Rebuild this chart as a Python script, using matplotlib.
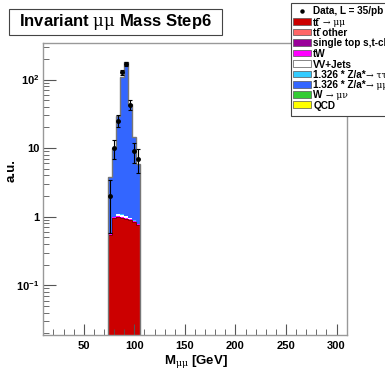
import numpy as np
import matplotlib
matplotlib.use("Agg")
import matplotlib.pyplot as plt
from matplotlib.patches import Rectangle
from matplotlib.ticker import FixedLocator, NullFormatter

plt.rcParams['font.family'] = ['Liberation Sans', 'DejaVu Sans']
plt.rcParams['mathtext.fontset'] = 'custom'
plt.rcParams['mathtext.rm'] = 'Liberation Sans'
plt.rcParams['mathtext.bf'] = 'Liberation Sans:bold'
plt.rcParams['mathtext.it'] = 'DejaVu Serif'

# ---------------- data ----------------
bin_edges = [74, 78, 82, 86, 90, 94, 98, 102, 106]
tt_mumu    = [0.54, 0.95, 1.00, 0.95, 0.92, 0.90, 0.83, 0.75]
tt_other   = [0.004, 0.005, 0.005, 0.005, 0.005, 0.005, 0.004, 0.004]
single_top = [0.003, 0.003, 0.003, 0.003, 0.003, 0.003, 0.003, 0.003]
tW         = [0.020, 0.030, 0.030, 0.030, 0.030, 0.030, 0.030, 0.025]
vv_jets    = [0.00, 0.01, 0.06, 0.09, 0.07, 0.03, 0.01, 0.01]
z_tautau   = [0.005, 0.005, 0.005, 0.005, 0.005, 0.005, 0.005, 0.005]
z_mumu     = [3.25, 9.10, 28.3, 107.0, 177.0, 43.0, 13.5, 5.10]
w_munu     = [0.0] * 8
qcd        = [0.0] * 8
data_counts = [2, 10, 25, 128, 168, 43, 9, 7]

TTBAR = "tt\u0304"
# label parts: (text, is_symbol_font)
components = [
    (tt_mumu,    "#cc0000", [(TTBAR, False), (" → μμ", True)]),
    (tt_other,   "#ff6666", [(TTBAR + " other", False)]),
    (single_top, "#990099", [("single top s,t-ch", False)]),
    (tW,         "#ff00ff", [("tW", False)]),
    (vv_jets,    "#ffffff", [("VV+Jets", False)]),
    (z_tautau,   "#33ccff", [("1.326 * Z/a*", False), ("→ ττ", True)]),
    (z_mumu,     "#3366ff", [("1.326 * Z/a*", False), ("→ μμ", True)]),
    (w_munu,     "#33cc33", [("W", False), (" → μν", True)]),
    (qcd,        "#ffff00", [("QCD", False)]),
]

W, H = 385, 369
fig = plt.figure(figsize=(W / 100, H / 100), dpi=100)
ax = fig.add_axes([43.3 / W, 1 - 335 / H, (346.7 - 43.3) / W, (335 - 42.7) / H])

edges = np.array(bin_edges, dtype=float)
bottom = np.zeros(len(edges) - 1)
for vals, col, lab in components:
    v = np.array(vals, dtype=float)
    if v.sum() > 0:
        ax.stairs(bottom + v, edges, baseline=bottom, fill=True, color=col, lw=0)
    bottom = bottom + v

# outlines
ax.stairs(np.array(tt_mumu), edges, baseline=None, color="#880000", lw=0.7)
ax.stairs(bottom, edges, baseline=1e-3, color="#777777", lw=1.0)

# data
centers = 0.5 * (edges[:-1] + edges[1:])
d = np.array(data_counts, dtype=float)
err = np.sqrt(d)
lo = np.minimum(err, d - 1e-3)
ax.errorbar(centers, d, yerr=[lo, err], fmt='o', color='black', ms=2.5,
            elinewidth=0.8, capsize=1.2, capthick=0.8)

ax.set_yscale('log')
ax.set_xlim(10, 310)
ax.set_ylim(0.0189, 344)

for sp in ax.spines.values():
    sp.set_color("#999999")
    sp.set_linewidth(1.0)

# ticks
ax.xaxis.set_major_locator(FixedLocator([50, 100, 150, 200, 250, 300]))
ax.xaxis.set_minor_locator(FixedLocator(np.arange(10, 311, 10)))
ax.set_xticklabels(["50", "100", "150", "200", "250", "300"], fontweight='bold', fontsize=8)
ax.yaxis.set_major_locator(FixedLocator([0.1, 1, 10, 100]))
ax.set_yticklabels([r"$\mathbf{10^{-1}}$", "1", "10", r"$\mathbf{10^{2}}$"], fontweight='bold', fontsize=8)
minors = []
for dec in [0.01, 0.1, 1, 10, 100]:
    for k in range(2, 10):
        minors.append(dec * k)
ax.yaxis.set_minor_locator(FixedLocator(minors))
ax.yaxis.set_minor_formatter(NullFormatter())
ax.tick_params(which='both', direction='in', top=False, right=False, color='#555555')
ax.tick_params(axis='y', which='major', length=9, width=0.8, pad=3)
ax.tick_params(axis='y', which='minor', length=4.5, width=0.6)
ax.tick_params(axis='x', which='major', length=8, width=0.8, pad=4)
ax.tick_params(axis='x', which='minor', length=4, width=0.6)

# axis titles
fig.text(12 / W, 1 - 170 / H, "a.u.", rotation=90, ha='center', va='center',
         fontsize=9.5, fontweight='bold')
fig.text(196 / W, 1 - 361 / H, r"M$_{\mu\mu}$ [GeV]", ha='center', va='center',
         fontsize=9.5, fontweight='bold')

# title box
fig.patches.append(Rectangle((9 / W, 1 - 35 / H), (221.7 - 9) / W, (35 - 8.7) / H,
                             transform=fig.transFigure, facecolor='white',
                             edgecolor='#444444', lw=0.8))
fig.text(115 / W, 1 - 22 / H, r"Invariant $\mu\mu$ Mass Step6", ha='center', va='center',
         fontsize=12, fontweight='bold')

# legend box (extends off the right edge)
lx0, ly0, lx1, ly1 = 290.7, 3.0, 400.0, 116.0
fig.patches.append(Rectangle((lx0 / W, 1 - ly1 / H), (lx1 - lx0) / W, (ly1 - ly0) / H,
                             transform=fig.transFigure, facecolor='white',
                             edgecolor='#444444', lw=0.8, clip_on=False))
row_y = [10.5, 21.5, 32.0, 42.5, 53.0, 63.5, 74.0, 84.3, 94.5, 104.7]
fs = 7.2
fig.text(313.3 / W, 1 - row_y[0] / H, "Data, L = 35/pb", ha='left', va='center_baseline',
         fontsize=fs, fontweight='bold')
fig.lines.append(plt.Line2D([302 / W], [1 - row_y[0] / H], marker='o', ms=2.2,
                            color='black', transform=fig.transFigure))
renderer = fig.canvas.get_renderer()
for (vals, col, parts), yy in zip(components, row_y[1:]):
    fig.patches.append(Rectangle((293.3 / W, 1 - (yy + 3.3) / H), (311 - 293.3) / W, 6.6 / H,
                                 transform=fig.transFigure, facecolor=col,
                                 edgecolor='#555555', lw=0.5))
    x = 313.3
    for txt, sym in parts:
        if sym:
            t = fig.text(x / W, 1 - yy / H, txt, ha='left', va='center_baseline',
                         fontsize=fs - 0.6, family=['DejaVu Serif'], fontweight='normal')
        else:
            t = fig.text(x / W, 1 - yy / H, txt, ha='left', va='center_baseline',
                         fontsize=fs, fontweight='bold')
        bb = t.get_window_extent(renderer)
        x = bb.x1

fig.savefig("out.png", dpi=100)
